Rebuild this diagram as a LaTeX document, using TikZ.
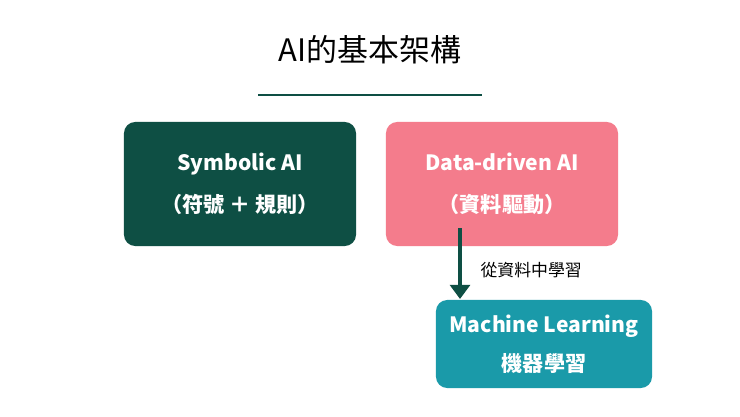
\documentclass[tikz,border=0pt]{standalone}
\usepackage{fontspec}
\setmainfont{Noto Sans CJK TC}
\usetikzlibrary{arrows.meta,positioning}
\definecolor{darkgreen}{HTML}{0E4F44}
\definecolor{pinkbox}{HTML}{F47C8C}
\definecolor{tealbox}{HTML}{1A9AA9}
\tikzset{
  box/.style={rounded corners=8pt, minimum width=5.8cm, minimum height=3.1cm,
    text=white, font=\bfseries\fontsize{15}{30}\selectfont, align=center}
}
\begin{document}
\begin{tikzpicture}[x=0.025cm,y=-0.025cm]
    \useasboundingbox[fill=white] (0,0) rectangle (740,416);

    % Title
    \node (title) at (370,50) {\fontsize{22}{26}\selectfont AI的基本架構};
    \draw[darkgreen, line width=0.8pt] (258,95) -- (482,95);

    % Boxes
    \node[box, fill=darkgreen] (symbolic) at (240,184) {Symbolic AI\\（符號 ＋ 規則）};
    \node[box, fill=pinkbox] (data) at (502,184) {Data-driven AI\\（資料驅動）};
    \node[box, fill=tealbox, minimum width=5.4cm, minimum height=2.2cm,
      font=\bfseries\fontsize{15}{28}\selectfont] (ml) at (544,344) {Machine Learning\\機器學習};

    % Arrow
    \coordinate (start) at (460,228);
    \coordinate (end) at (460,299);
    \draw[darkgreen, line width=3pt, -{Triangle[length=10pt,width=14pt]}] (start) -- (end);
    \node[font=\fontsize{12}{14}\selectfont, right=4pt] (learn) at (470,270) {從資料中學習};
\end{tikzpicture}
\end{document}
